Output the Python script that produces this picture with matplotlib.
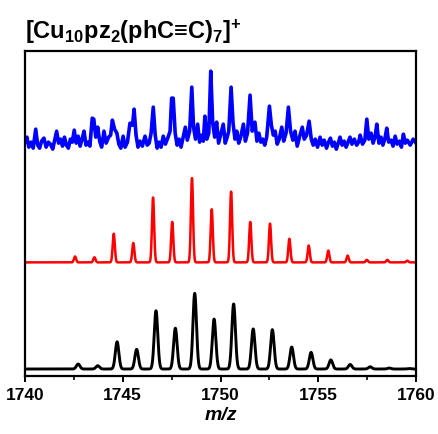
import numpy as np
import matplotlib
matplotlib.use("Agg")
import matplotlib.pyplot as plt
from matplotlib.ticker import MultipleLocator

plt.rcParams['font.family'] = ['Liberation Sans', 'DejaVu Sans']
plt.rcParams['mathtext.fontset'] = 'custom'
plt.rcParams['mathtext.rm'] = 'Liberation Sans:bold'
plt.rcParams['mathtext.bf'] = 'Liberation Sans:bold'
plt.rcParams['mathtext.it'] = 'Liberation Sans:bold:italic'
plt.rcParams['mathtext.default'] = 'bf'

# simulated isotope pattern (black), relative intensity %
black_mz = [1742.72, 1743.72, 1744.71, 1745.71, 1746.70, 1747.69, 1748.68, 1749.67,
            1750.67, 1751.67, 1752.65, 1753.64, 1754.63, 1755.64, 1756.63, 1757.65,
            1758.63, 1759.64]
black_int = [6.6, 4.4, 36, 26, 77, 54, 100, 66, 86, 53, 52, 29, 22, 12, 6, 3, 1.3, 0.7]

# simulated isotope pattern (red), relative intensity %
red_mz = [1742.56, 1743.55, 1744.54, 1745.54, 1746.55, 1747.53, 1748.54, 1749.55,
          1750.54, 1751.52, 1752.53, 1753.52, 1754.51, 1755.51, 1756.50, 1757.48,
          1758.53, 1759.55]
red_int = [7, 6, 34, 23, 77, 48, 100, 63, 84, 48, 46, 28, 20, 14, 8, 3, 3, 2]

# experimental spectrum (blue)
blue_mz = [1740.00, 1740.10, 1740.20, 1740.32, 1740.42, 1740.55, 1740.65, 1740.75, 1740.85, 1740.97,
           1741.08, 1741.20, 1741.30, 1741.42, 1741.52, 1741.62, 1741.72, 1741.82, 1741.92, 1742.02,
           1742.12, 1742.22, 1742.32, 1742.42, 1742.52, 1742.62, 1742.72, 1742.82, 1742.92, 1743.02,
           1743.12, 1743.22, 1743.32, 1743.44, 1743.52, 1743.62, 1743.72, 1743.82, 1743.92, 1744.04,
           1744.15, 1744.28, 1744.38, 1744.47, 1744.58, 1744.70, 1744.80, 1744.90, 1745.02, 1745.12,
           1745.24, 1745.37, 1745.50, 1745.58, 1745.68, 1745.78, 1745.88, 1746.00, 1746.14, 1746.25,
           1746.35, 1746.45, 1746.56, 1746.66, 1746.76, 1746.86, 1746.96, 1747.07, 1747.18, 1747.30,
           1747.42, 1747.50, 1747.58, 1747.68, 1747.78, 1747.88, 1747.98, 1748.08, 1748.20, 1748.30,
           1748.42, 1748.53, 1748.62, 1748.72, 1748.83, 1748.93, 1749.03, 1749.12, 1749.20, 1749.30,
           1749.40, 1749.50, 1749.60, 1749.70, 1749.80, 1749.90, 1750.00, 1750.14, 1750.24, 1750.34,
           1750.42, 1750.54, 1750.64, 1750.74, 1750.83, 1750.93, 1751.03, 1751.17, 1751.27, 1751.38,
           1751.51, 1751.62, 1751.76, 1751.86, 1751.96, 1752.06, 1752.16, 1752.26, 1752.36, 1752.50,
           1752.60, 1752.70, 1752.79, 1752.90, 1753.00, 1753.13, 1753.23, 1753.35, 1753.47, 1753.58,
           1753.70, 1753.81, 1753.92, 1754.05, 1754.18, 1754.28, 1754.40, 1754.53, 1754.64, 1754.74,
           1754.84, 1754.96, 1755.09, 1755.20, 1755.30, 1755.42, 1755.52, 1755.62, 1755.72, 1755.82,
           1755.92, 1756.02, 1756.11, 1756.22, 1756.32, 1756.42, 1756.52, 1756.62, 1756.72, 1756.84,
           1756.96, 1757.06, 1757.14, 1757.26, 1757.38, 1757.48, 1757.58, 1757.70, 1757.80, 1757.90,
           1757.99, 1758.10, 1758.20, 1758.30, 1758.40, 1758.50, 1758.60, 1758.72, 1758.82, 1758.93,
           1759.03, 1759.15, 1759.25, 1759.35, 1759.45, 1759.55, 1759.70, 1759.85, 1760.00]
blue_int = [3, 8, -2, 3, -3, 16, 0, -3, 4, 7,
            -2, 3, 1, -4, 5, 14, 2, 6, -1, 8,
            0, -3, 6, 3, 15, 2, 9, -1, 6, 14,
            0, 3, -1, 27, 26, 8, 18, 4, -2, 14,
            2, 8, 10, 25, 16, 12, 1, -3, 9, -2,
            3, 22, 20, 36, 10, -2, 4, -1, 9, 0,
            2, 12, 38, 10, -3, 3, -2, 9, 1, 7,
            14, 47, 47, 12, 0, 6, -2, 7, 18, 5,
            14, 58, 18, 6, 21, 3, 10, 4, 29, 6,
            12, 74, 22, 8, 23, 2, 10, 21, 2, 8,
            14, 58, 22, 6, 14, 2, 8, 21, 4, 12,
            50, 14, 23, 4, 12, 3, 6, 0, 8, 39,
            20, 10, 14, 1, 6, 18, 4, 12, 38, 14,
            5, 14, -1, 9, 18, 6, 10, 24, 6, 0,
            6, -2, 8, 0, 5, -3, 3, 7, -1, 3,
            -4, 2, 8, 0, 4, -2, 3, 8, 1, 6,
            0, 3, 10, 1, 5, 26, 6, 12, 2, 8,
            21, 2, 8, 0, 6, 17, 3, 5, -1, 9,
            1, 4, -2, 11, 2, 5, 0, 6, 2]

x = np.linspace(1740, 1760, 4001)


def profile(mz, inten, sigma):
    y = np.zeros_like(x)
    for m, i in zip(mz, inten):
        y += i * np.exp(-0.5 * ((x - m) / sigma) ** 2)
    return y


black_y = 7 + 0.757 * profile(black_mz, black_int, 0.09)
red_y = 113.7 + 0.843 * profile(red_mz, red_int, 0.055)
blue_y = 231 + np.array(blue_int)

fig = plt.figure(figsize=(4.38, 4.35), dpi=100)
ax = fig.add_axes([0.057, 0.1333, 0.893, 0.7467])

ax.plot(blue_mz, blue_y, color="#0000FF", lw=2.6, solid_joinstyle="round")
ax.plot(x, red_y, color="#FF0000", lw=1.8)
ax.plot(x, black_y, color="black", lw=2.1)

ax.set_xlim(1740, 1760)
ax.set_ylim(0, 325)
ax.set_yticks([])
ax.xaxis.set_major_locator(MultipleLocator(5))
ax.xaxis.set_minor_locator(MultipleLocator(2.5))
ax.tick_params(axis="x", which="major", length=4, width=1.4, direction="out", labelsize=12.5, pad=4)
ax.tick_params(axis="x", which="minor", length=3, width=1.2, direction="out")
for lbl in ax.get_xticklabels():
    lbl.set_fontweight("bold")
for s in ax.spines.values():
    s.set_linewidth(1.6)

ax.set_xlabel("m/z", fontsize=14, fontweight="bold", fontstyle="italic", labelpad=3)
ax.text(0.0, 1.02, "[Cu$_{10}$pz$_{2}$(phC\u2261C)$_{7}$]$^{+}$", transform=ax.transAxes,
        fontsize=17, fontweight="bold", ha="left", va="bottom")

plt.savefig("out.png", dpi=100)
